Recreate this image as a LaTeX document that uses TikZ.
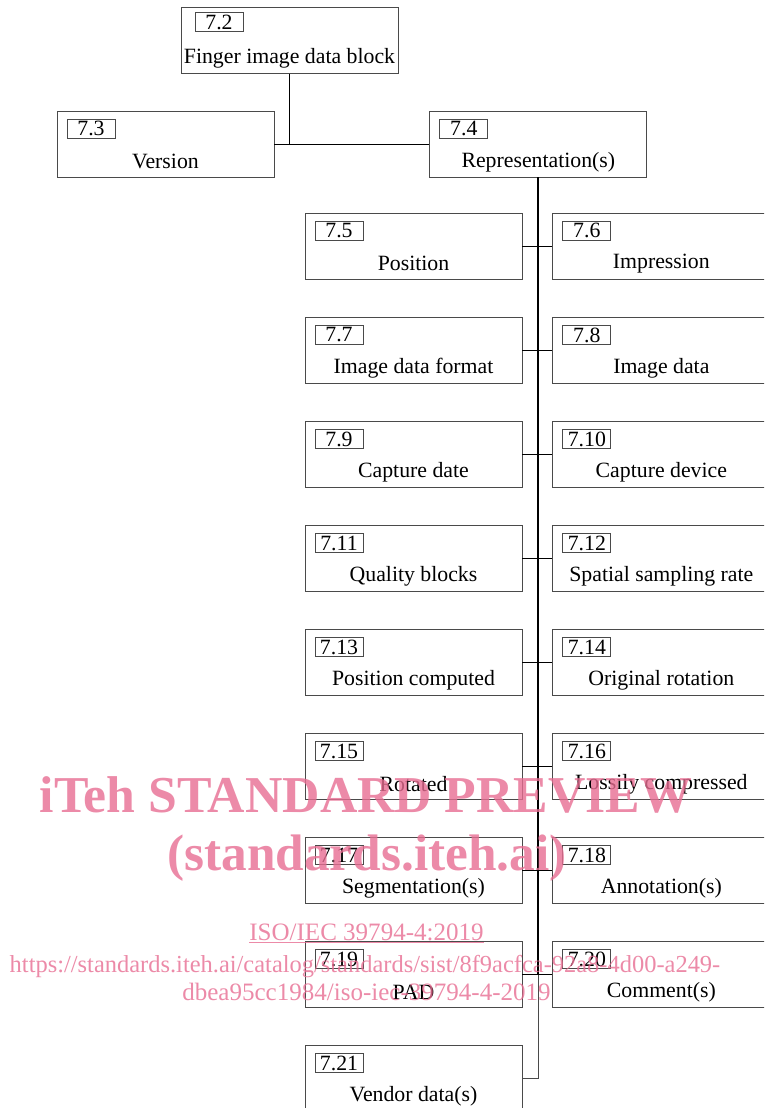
\documentclass[tikz,border=0pt]{standalone}
\usepackage{fontspec}
\setmainfont{Liberation Serif}
\definecolor{itehpink}{RGB}{231,109,146}
\definecolor{boxgrey}{HTML}{4A4A4A}
\usetikzlibrary{positioning, calc}
\tikzset{
  field/.style = {rectangle, draw = boxgrey, line width = 0.6pt, minimum width = 5.425cm, minimum height = 1.65cm, inner sep = 0pt},
  numtag/.style = {rectangle, draw = boxgrey, line width = 0.6pt, minimum width = 1.2cm, minimum height = 0.475cm, inner sep = 0pt, anchor = north west, xshift = 0.25cm, yshift = -0.21cm, font = \fontsize{15.5}{16}\selectfont},
  fname/.style = {anchor = base, yshift = -0.445cm, font = \fontsize{15.5}{16}\selectfont},
  wmark/.style = {text = itehpink, text opacity = 0.8, inner sep = 0pt, anchor = base}
}

\begin{document}
\begin{tikzpicture}
\path[use as bounding box, clip] (0,0) rectangle (19.1,-27.7);
% top of the tree
\node[field, label = {[numtag, xshift = 0.1cm, yshift = 0.08cm]north west:7.2}, label = {[fname]center:Finger image data block}] (fidb) at (7.2375,-1.0125) {};
\node[field, label = {[numtag]north west:7.3}, label = {[fname]center:Version}] (ver) at (4.1375,-3.6) {};
\node[field, label = {[numtag]north west:7.4}, label = {[fname]center:Representation(s)}, right = 3.875cm of ver] (rep) {};
% representation fields, two columns
\node[field, label = {[numtag]north west:7.5}, label = {[fname]center:Position}] (pos) at (10.3375,-6.15) {};
\node[field, label = {[numtag]north west:7.6}, label = {[fname]center:Impression}, right = 0.75cm of pos] (imp) {};
\node[field, label = {[numtag]north west:7.7}, label = {[fname]center:Image data format}, below = 0.93cm of pos] (idf) {};
\node[field, label = {[numtag]north west:7.8}, label = {[fname]center:Image data}, right = 0.75cm of idf] (idat) {};
\node[field, label = {[numtag]north west:7.9}, label = {[fname]center:Capture date}, below = 0.93cm of idf] (cdate) {};
\node[field, label = {[numtag]north west:7.10}, label = {[fname]center:Capture device}, right = 0.75cm of cdate] (cdev) {};
\node[field, label = {[numtag]north west:7.11}, label = {[fname]center:Quality blocks}, below = 0.93cm of cdate] (qual) {};
\node[field, label = {[numtag]north west:7.12}, label = {[fname]center:Spatial sampling rate}, right = 0.75cm of qual] (ssr) {};
\node[field, label = {[numtag]north west:7.13}, label = {[fname]center:Position computed}, below = 0.93cm of qual] (pcomp) {};
\node[field, label = {[numtag]north west:7.14}, label = {[fname]center:Original rotation}, right = 0.75cm of pcomp] (orot) {};
\node[field, label = {[numtag]north west:7.15}, label = {[fname]center:Rotated}, below = 0.93cm of pcomp] (rot) {};
\node[field, label = {[numtag]north west:7.16}, label = {[fname]center:Lossily compressed}, right = 0.75cm of rot] (lossy) {};
\node[field, label = {[numtag]north west:7.17}, label = {[fname]center:Segmentation(s)}, below = 0.93cm of rot] (seg) {};
\node[field, label = {[numtag]north west:7.18}, label = {[fname]center:Annotation(s)}, right = 0.75cm of seg] (annot) {};
\node[field, label = {[numtag]north west:7.19}, label = {[fname]center:PAD}, below = 0.93cm of seg] (pad) {};
\node[field, label = {[numtag]north west:7.20}, label = {[fname]center:Comment(s)}, right = 0.75cm of pad] (comm) {};
\node[field, label = {[numtag]north west:7.21}, label = {[fname]center:Vendor data(s)}, below = 0.93cm of pad] (vend) {};
% connectors
\draw[line width = 0.6pt] (ver.east) -- (rep.west);
\draw[line width = 0.6pt] (fidb.south) -- (fidb.south |- ver.east);
\draw[line width = 1.4pt] (rep.south) -- (rep.south |- pad.east);
\draw[line width = 0.6pt, boxgrey] (rep.south |- pad.east) |- (vend.east);
\draw[line width = 0.6pt] (pos.east) -- (imp.west);
\draw[line width = 0.6pt] (idf.east) -- (idat.west);
\draw[line width = 0.6pt] (cdate.east) -- (cdev.west);
\draw[line width = 0.6pt] (qual.east) -- (ssr.west);
\draw[line width = 0.6pt] (pcomp.east) -- (orot.west);
\draw[line width = 0.6pt] (rot.east) -- (lossy.west);
\draw[line width = 0.6pt] (seg.east) -- (annot.west);
\draw[line width = 0.6pt] (pad.east) -- (comm.west);
% watermark
\node[wmark, font = \fontsize{36.8}{40}\selectfont\bfseries] (wm1) at (9.15,-20.3) {iTeh STANDARD PREVIEW};
\node[wmark, font = \fontsize{36.5}{40}\selectfont\bfseries] (wm2) at (9.175,-21.75) {(standards.iteh.ai)};
\node[wmark, font = \fontsize{17.8}{20}\selectfont] (wm3) at (9.1625,-23.5) {\underline{ISO/IEC 39794-4:2019}};
\node[wmark, font = \fontsize{17.4}{20}\selectfont] (wm4) at (9.125,-24.3) {https://standards.iteh.ai/catalog/standards/sist/8f9acfca-92a8-4d00-a249-};
\node[wmark, font = \fontsize{17.8}{20}\selectfont] (wm5) at (9.1625,-25.0) {dbea95cc1984/iso-iec-39794-4-2019};
\end{tikzpicture}
\end{document}
